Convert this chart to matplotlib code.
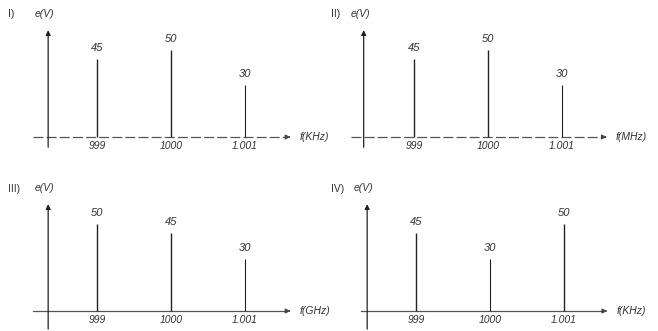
import matplotlib.pyplot as plt

plt.rcParams['font.family'] = ['Liberation Sans', 'DejaVu Sans']

# Espectros de amplitud de los cuatro casos
frecuencias = ['999', '1000', '1.001']
amp_I = [45, 50, 30]
amp_II = [45, 50, 30]
amp_III = [50, 45, 30]
amp_IV = [45, 30, 50]

paneles = ['I)', 'II)', 'III)', 'IV)']
unidades = ['f(KHz)', 'f(MHz)', 'f(GHz)', 'f(KHz)']
amplitudes = [amp_I, amp_II, amp_III, amp_IV]

W, H = 658, 331
fig = plt.figure(figsize=(W / 100, H / 100), dpi=100)

PX_X = 74.0    # pixeles por frecuencia
PX_Y = 1.74    # pixeles por voltio
XLIM = (0, 4)
YLIM = (-20, 70)

# (raya 999 en px, linea base en px, eje y, inicio eje x, fin eje x, fondo eje y, rotulo en px)
geo = [
    (97, 137, 0.34, 0.135, 3.65, -7.5, (8, 14)),
    (414, 137, 0.32, 0.15, 3.64, -7.5, (331, 14)),
    (97, 311, 0.34, 0.135, 3.65, -12, (8, 189)),
    (416, 311, 0.34, 0.26, 3.62, -12, (331, 189)),
]
gris = '#333333'
trazo_eje = [(0, (8, 2.5)), (0, (8, 2.5)), '-', '-']

for k in range(4):
    px0, base, xy, xa, xb, yb, rot = geo[k]
    izq = px0 - PX_X * (1 - XLIM[0])
    arriba = base - PX_Y * YLIM[1]
    ancho = PX_X * (XLIM[1] - XLIM[0])
    alto = PX_Y * (YLIM[1] - YLIM[0])
    ax = fig.add_axes([izq / W, (H - arriba - alto) / H, ancho / W, alto / H])
    ax.set_xlim(*XLIM)
    ax.set_ylim(*YLIM)
    ax.axis('off')

    # eje x con flecha
    ax.plot([xa, xb - 0.08], [0, 0], color='#555555', lw=0.9,
            linestyle=trazo_eje[k], clip_on=False)
    ax.annotate('', xy=(xb, 0), xytext=(xb - 0.1, 0),
                arrowprops=dict(arrowstyle='-|>', color='#444444', lw=0.8,
                                mutation_scale=7), annotation_clip=False)
    ax.text(xb + 0.09, 0, unidades[k], fontsize=7.5, style='italic',
            color=gris, va='center', ha='left', clip_on=False)

    # eje y con flecha
    ax.annotate('', xy=(xy, 63), xytext=(xy, yb),
                arrowprops=dict(arrowstyle='-|>', color='#222222', lw=0.9,
                                mutation_scale=7), annotation_clip=False)

    # rayas del espectro
    for i, (f, a) in enumerate(zip(frecuencias, amplitudes[k])):
        x = i + 1
        ax.vlines(x, 0, a, color='#222222', lw=1.0 if a != 30 else 0.8)
        ax.annotate(str(a), xy=(x, a), xytext=(0, 4), textcoords='offset points',
                    ha='center', va='bottom', fontsize=8, style='italic',
                    color=gris, annotation_clip=False)
        ax.text(x, -5, f, ha='center', va='center', fontsize=7.5,
                style='italic', color=gris, clip_on=False)

    # rotulos del panel
    fig.text(rot[0] / W, 1 - rot[1] / H, paneles[k], fontsize=7.5, color=gris,
             ha='left', va='center')
    ax.text(xy - 0.18, 70.5, 'e(V)', fontsize=7.5, style='italic',
            color=gris, ha='left', va='center', clip_on=False)

fig.savefig('out.png', dpi=100, facecolor='white')
